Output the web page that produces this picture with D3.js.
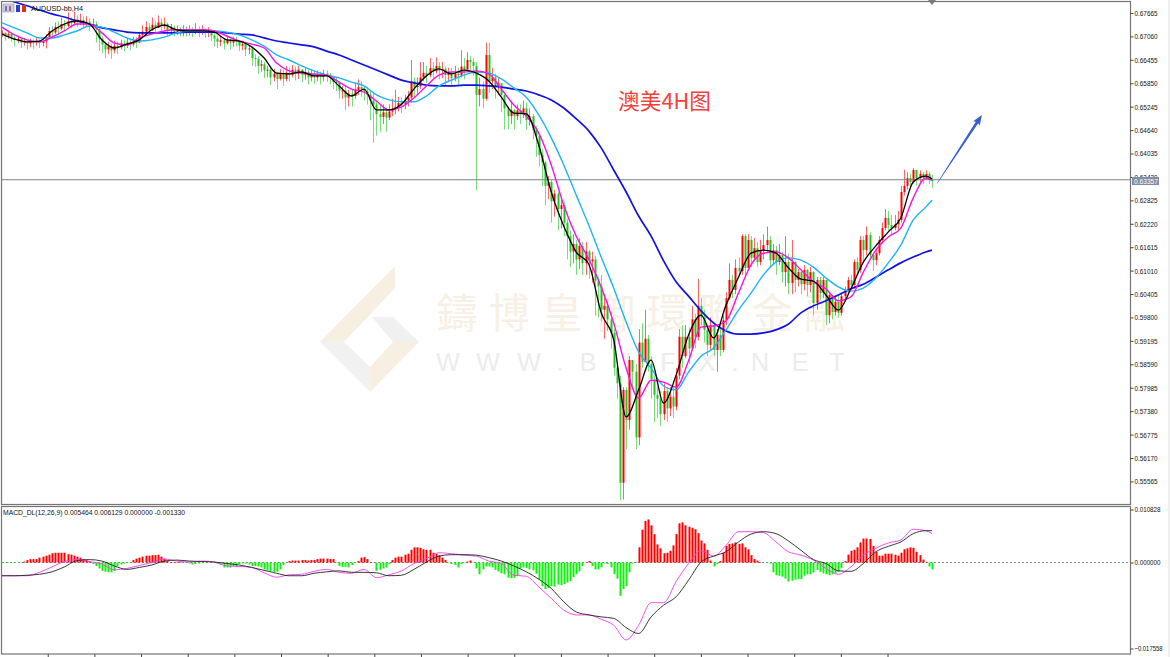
<!DOCTYPE html>
<html><head><meta charset="utf-8">
<script src="https://cdn.jsdelivr.net/npm/d3@7/dist/d3.min.js"></script>
<style>html,body{margin:0;padding:0;background:#fff}svg{display:block}</style>
</head><body><svg id="c" width="1170" height="657"></svg>
<script>
// prices in units of 0.0001
const closes=[
6715,6708,6712,6703,6697,6700,6690,6694,6688,6692,6690,6694,6689,6693,6703,
6720,6716,6730,6726,6738,6733,6745,6740,6750,6744,6748,6740,6744,6736,6738,
6725,6700,6685,6672,6680,6670,6682,6678,6688,6682,6690,6685,6692,6690,6710,
6718,6730,6722,6736,6728,6742,6732,6738,6722,6728,6716,6724,6718,6722,6718,
6722,6716,6724,6718,6722,6715,6718,6708,6700,6692,6696,6688,6698,6690,6695,
6694,6682,6686,6672,6675,6650,6648,6630,6634,6618,6620,6600,6610,6596,6612,
6596,6612,6606,6620,6610,6620,6606,6614,6600,6610,6600,6608,6602,6610,6606,
6600,6588,6586,6566,6566,6548,6558,6552,6568,6575,6570,6564,6556,6540,6530,
6505,6498,6510,6496,6512,6520,6524,6534,6530,6540,6548,6590,6575,6578,6600,
6612,6606,6624,6616,6630,6618,6622,6606,6612,6598,6610,6606,6628,6620,6645,
6640,6630,6555,6570,6545,6658,6590,6600,6575,6585,6555,6520,6500,6515,6500,
6515,6505,6520,6490,6500,6465,6450,6400,6380,6320,6330,6280,6300,6260,6270,
6225,6190,6150,6170,6130,6165,6120,6150,6125,6130,6075,6060,6000,6010,5975,
5940,5850,5810,5553,5793,5715,5870,5840,5670,5915,5865,5925,5860,5820,5780,
5770,5730,5790,5745,5775,5750,5830,5930,5880,5930,5900,5975,5930,6010,5980,
5948,5909,5960,5896,5935,5896,5973,6030,6077,6051,6108,6100,6190,6108,6180,
6134,6159,6123,6154,6167,6180,6128,6154,6123,6141,6097,6123,6069,6123,6077,
6097,6066,6103,6064,6097,6017,6077,6043,6077,5986,6038,5994,6020,5992,6035,
6051,6077,6064,6123,6103,6180,6154,6193,6141,6128,6146,6180,6211,6237,6219,
6211,6221,6232,6304,6320,6340,6330,6361,6340,6351,6340,6351,6335,6332];
const highs=[
6722,6716,6722,6712,6706,6708,6700,6702,6696,6700,6698,6702,6698,6702,6712,
6730,6732,6742,6745,6755,6748,6768,6755,6770,6760,6765,6758,6758,6752,6752,
6745,6728,6706,6692,6692,6688,6695,6692,6698,6696,6702,6698,6704,6705,6718,
6735,6745,6740,6755,6745,6760,6752,6755,6742,6738,6734,6734,6730,6735,6732,
6735,6730,6740,6732,6735,6728,6730,6725,6715,6708,6706,6702,6708,6700,6705,
6705,6695,6695,6684,6682,6680,6660,6655,6645,6640,6630,6625,6622,6615,6622,
6620,6630,6625,6632,6628,6630,6622,6625,6620,6622,6618,6618,6615,6620,6618,
6612,6604,6600,6590,6578,6575,6568,6570,6585,6595,6590,6578,6575,6565,6560,
6538,6528,6530,6520,6530,6545,6568,6550,6548,6555,6565,6645,6600,6600,6640,
6640,6630,6650,6640,6652,6640,6640,6628,6625,6625,6630,6625,6670,6650,6665,
6655,6650,6640,6600,6590,6690,6690,6625,6610,6600,6585,6555,6525,6535,6520,
6530,6530,6540,6535,6520,6505,6475,6455,6415,6385,6345,6335,6310,6305,6285,
6280,6235,6205,6195,6180,6185,6175,6175,6155,6150,6140,6085,6090,6040,6020,
5995,5950,5860,5830,5800,5800,5880,5870,5860,5950,5965,6000,5935,5880,5830,
5800,5790,5810,5800,5800,5800,5850,5950,5960,5960,5955,6010,5990,6080,6030,
6000,5960,5980,5960,5950,5960,5985,6045,6120,6090,6130,6135,6195,6195,6195,
6190,6185,6175,6180,6195,6215,6190,6170,6165,6170,6150,6190,6145,6180,6125,
6105,6100,6115,6105,6110,6100,6085,6085,6085,6075,6045,6040,6035,6035,6045,
6060,6085,6090,6130,6135,6190,6190,6215,6200,6145,6155,6190,6225,6260,6255,
6245,6245,6255,6320,6362,6355,6352,6366,6362,6360,6356,6360,6356,6348];
const lows=[
6705,6695,6700,6692,6680,6688,6676,6682,6672,6678,6674,6682,6676,6680,6675,
6705,6702,6712,6712,6722,6720,6730,6728,6735,6730,6735,6728,6730,6720,6725,
6690,6668,6662,6650,6660,6648,6662,6660,6672,6668,6676,6670,6680,6676,6688,
6704,6710,6710,6720,6716,6728,6720,6724,6708,6712,6706,6710,6706,6706,6706,
6708,6704,6712,6704,6710,6702,6704,6694,6680,6676,6680,6672,6684,6672,6680,
6680,6668,6670,6655,6660,6630,6628,6610,6615,6598,6600,6580,6590,6570,6592,
6578,6590,6590,6600,6592,6596,6588,6594,6582,6590,6584,6590,6582,6590,6588,
6582,6570,6565,6545,6545,6515,6525,6525,6545,6555,6550,6540,6530,6490,6431,
6450,6460,6480,6460,6490,6500,6505,6512,6508,6518,6525,6535,6548,6555,6570,
6590,6585,6600,6595,6610,6595,6598,6580,6590,6575,6590,6580,6600,6595,6615,
6620,6605,6309,6525,6520,6540,6560,6570,6545,6555,6510,6465,6465,6480,6465,
6490,6480,6495,6465,6475,6440,6395,6370,6320,6270,6285,6225,6240,6205,6210,
6190,6130,6110,6120,6090,6105,6090,6090,6080,6070,5985,5980,5970,5925,5945,
5900,5830,5770,5508,5510,5640,5690,5800,5640,5650,5850,5880,5840,5770,5710,
5720,5700,5715,5710,5725,5720,5740,5820,5850,5875,5860,5895,5900,5920,5960,
5915,5880,5895,5880,5840,5880,5890,5960,6025,6030,6040,6090,6090,6090,6100,
6110,6125,6110,6115,6130,6150,6110,6115,6090,6115,6070,6060,6040,6040,6045,
6060,6040,6050,6035,6045,5985,6000,6025,6030,5960,5965,5975,5985,5980,5985,
6020,6040,6050,6055,6090,6095,6125,6140,6130,6100,6115,6140,6170,6205,6205,
6195,6205,6205,6225,6295,6310,6310,6325,6320,6330,6325,6335,6325,6315];

const maBlack=[6712,6699,6692,6694,6720,6738,6746,6738,6697,6676,6686,6697,6723,6735,6723,6720,6720,6717,6697,6694,
6679,6650,6611,6609,6614,6604,6604,6578,6552,6570,6516,6516,6531,6570,6604,6622,6609,6619,6611,6591,
6549,6508,6506,6425,6304,6216,6149,6118,5992,5922,5723,5793,5870,5759,5831,5935,5986,5927,6012,6084,
6146,6154,6146,6108,6079,6074,6038,5999,6054,6123,6165,6201,6237,6330,6345,6338];
const maMagenta=[6730,6710,6697,6692,6704,6720,6738,6738,6715,6689,6684,6702,6712,6720,6723,6723,6723,6720,6707,6694,
6686,6676,6637,6617,6611,6609,6606,6588,6570,6562,6539,6516,6524,6547,6578,6606,6614,6614,6617,6609,
6570,6529,6500,6456,6374,6270,6190,6131,6059,5966,5849,5772,5818,5813,5800,5868,5955,5958,5971,6043,
6116,6146,6149,6134,6103,6072,6054,6023,6033,6097,6154,6188,6211,6289,6340,6335];
const maSky=[6741,6728,6715,6702,6702,6710,6720,6733,6730,6717,6702,6694,6697,6704,6715,6720,6720,6720,6717,6710,
6697,6681,6658,6645,6630,6617,6606,6599,6588,6578,6555,6542,6537,6537,6552,6578,6593,6606,6614,6611,
6596,6573,6549,6503,6444,6374,6296,6219,6136,6056,5968,5891,5849,5803,5793,5839,5880,5901,5948,5999,
6043,6090,6123,6134,6128,6110,6082,6059,6048,6056,6082,6121,6167,6232,6265,6283];
const maBlue=[6805,6795,6785,6774,6764,6756,6746,6738,6728,6723,6717,6715,6715,6715,6715,6717,6717,6717,6715,6712,
6710,6702,6694,6689,6684,6679,6668,6658,6645,6632,6619,6606,6593,6586,6580,6578,6578,6580,6580,6578,
6575,6570,6565,6555,6542,6521,6493,6462,6418,6361,6304,6242,6190,6126,6072,6035,5997,5966,5945,5937,
5937,5940,5948,5963,5992,6010,6023,6038,6054,6066,6084,6103,6121,6136,6149,6154];

// MACD values in units of 0.0001
const macdHist=[
-1,-1,-1,-1,-1,-1,-1,2,5,7,7,7,10,12,14,
16,19,20,20,20,20,17,16,14,12,10,7,5,3,-3,
-7,-12,-17,-19,-20,-20,-17,-8,-4,-2,-1,-1,5,8,10,
12,14,14,15,15,16,12,8,3,1,1,1,1,-1,-1,
-2,-4,-3,-2,-1,0,0,0,-1,-2,-4,-10,-10,-10,-7,
-8,-3,-2,-2,-4,-7,-7,-8,-10,-14,-16,-18,-19,-19,-14,
-5,0,3,4,4,4,5,5,4,5,5,7,8,8,8,
7,7,-1,-7,-9,-9,-10,-5,-1,3,10,11,7,1,-1,
-17,-15,-12,-10,-3,5,10,12,
12,16,18,26,31,31,30,27,26,26,20,18,15,10,5,
-1,-3,-5,-10,-3,-1,2,4,-1,-12,-24,-14,-8,-8,-10,
-15,-18,-22,-24,-31,-32,-31,-26,-12,-10,-11,-14,-16,-23,-35,
-48,-54,-52,-48,-49,-45,-46,-44,-41,-38,-30,-24,-18,-7,1,
3,-7,-14,-14,-10,-2,-3,-10,-24,-33,-68,-54,-48,-20,-2,
1,31,67,85,88,76,58,37,29,19,20,24,35,58,80,
82,76,73,71,68,60,45,39,26,4,-8,-3,3,20,34,
38,39,41,38,39,31,27,15,7,4,1,-1,-1,-2,-20,
-26,-27,-29,-33,-39,-37,-35,-34,
-34,-27,-24,-24,-20,-15,-19,-22,-24,-26,-24,-22,-19,-11,3,
16,24,26,31,41,49,49,48,34,22,14,14,18,18,18,
16,14,20,27,29,31,30,22,15,6,1,-8,-14];
const macdSignal=[-27,-27,-26,-24,-19,-9,4,6,3,-7,-14,-10,-5,3,5,3,2,1,-2,-5,-10,-16,-22,-27,-27,-22,-19,-17,-20,-20,-21,-27,
-26,-14,1,13,16,16,15,10,3,-7,-19,-34,-53,-80,-101,-107,-111,-114,-133,-145,-111,-87,-70,-36,1,13,22,42,58,63,59,44,
25,6,-2,-17,-18,-2,22,33,42,59,65,65];
const macdMain=[-27,-27,-27,-20,-9,2,6,2,-3,-15,-12,-6,0,7,3,1,3,1,-7,-8,-10,-21,-30,-25,-24,-18,-14,-20,-22,-14,-31,-25,
-17,-2,8,20,18,15,13,3,-2,-26,-28,-50,-73,-97,-107,-107,-116,-128,-158,-128,-82,-82,-39,-2,24,13,35,63,63,61,42,22,
15,5,-12,-24,-9,15,29,40,46,68,65,59];

const priceTicks=[0.67665,0.67060,0.66455,0.65850,0.65245,0.64640,0.64035,0.63430,0.62825,0.62220,0.61615,0.61010,0.60405,0.59800,0.59195,0.58590,0.57985,0.57380,0.56775,0.56170,0.55565];
const macdTicks=[0.010828,0,-0.017558];
const lastPrice=0.63357;
const symbolLabel="AUDUSD-bb,H4";
const macdLabel="MACD_DL(12,26,9) 0.005464 0.006129 0.000000 -0.001330";
const noteLabel="澳美4H图";
const wmChars=["鑄","博","皇","御","環","聯","金","融"];
const wmWeb=["W","W","W",".","B","I","F","X",".","N","E","T"];
const wmWebX=[448,488,529,560,588,628,668,707,735,760,800,837];
const timeTickBars=d3.range(19).map(k=>14.65+14.95*k);
const lineBars=d3.range(0,297,4).concat([298]);

const svg=d3.select("#c");
const x=d3.scaleLinear().domain([0,298]).range([2,932]);
const yP=d3.scaleLinear().domain([0.68,0.5555]).range([0,482]);
const yM=d3.scaleLinear().domain([0.010828,-0.017558]).range([509.5,648.5]);
const p=v=>yP(v/10000), m=v=>yM(v/10000);
const XR=1130.5;

svg.append("rect").attr("width",1170).attr("height",657).attr("fill","#fff");
svg.append("rect").attr("x",1168).attr("width",2).attr("height",657).attr("fill","#efefef");

// watermark
const wm=svg.append("g");
[[[395,266],[395,288],[344,342],[320,342],"#f6efe2"],
 [[372,317],[393,317],[419,342],[393,342],"#f0f0f0"],
 [[393,342],[419,342],[370,392],[370,367],"#f6efe2"],
 [[320,342],[344,342],[370,367],[370,392],"#f1f1f1"]].forEach(a=>{
  wm.append("polygon").attr("points",a.slice(0,4).join(" ")).attr("fill",a[4]);
});
wm.selectAll("text.cn").data(wmChars).join("text").attr("class","cn")
  .attr("x",(d,i)=>457+52.5*i).attr("y",328).attr("text-anchor","middle")
  .attr("font-family","'Noto Sans CJK TC'").attr("font-size",41).attr("fill","#f8efe5").text(d=>d);
wm.selectAll("text.web").data(wmWeb).join("text").attr("class","web")
  .attr("x",(d,i)=>wmWebX[i]).attr("y",371).attr("text-anchor","middle")
  .attr("font-family","'Liberation Sans'").attr("font-size",25).attr("fill","#ececec").text(d=>d);

// main panel
svg.append("clipPath").attr("id","mainClip").append("rect").attr("x",2).attr("y",2).attr("width",XR-2).attr("height",502);
const main=svg.append("g").attr("clip-path","url(#mainClip)");
const UP="#ff0000",DOWN="#22c422";
const bars=closes.map((c,i)=>({i,c,o:i?closes[i-1]:c,h:highs[i],l:lows[i]}));
const col=d=>d.c>=d.o?UP:DOWN;
main.selectAll("line.w").data(bars).join("line").attr("class","w")
  .attr("x1",d=>Math.round(x(d.i))+.5).attr("x2",d=>Math.round(x(d.i))+.5).attr("y1",d=>p(d.h)).attr("y2",d=>p(d.l))
  .attr("stroke",col).attr("stroke-width",1).attr("stroke-opacity",.6);
main.selectAll("rect.b").data(bars).join("rect").attr("class","b")
  .attr("x",d=>Math.round(x(d.i))-.5).attr("width",2)
  .attr("y",d=>p(Math.max(d.o,d.c))).attr("height",d=>Math.max(1,Math.abs(p(d.o)-p(d.c))))
  .attr("fill",col);

main.append("line").attr("x1",2).attr("x2",XR).attr("y1",yP(lastPrice)).attr("y2",yP(lastPrice))
  .attr("stroke","#74808f").attr("stroke-width",1);

const line=(yf)=>d3.line().x((d,i)=>x(lineBars[i])).y(yf).curve(d3.curveMonotoneX);
[[maBlue,"#1212e0",1.7],[maSky,"#1cb4fa",1.4],[maMagenta,"#f414e4",1.4],[maBlack,"#000",1.3]].forEach(s=>{
  main.append("path").attr("d",line(d=>p(d))(s[0])).attr("fill","none").attr("stroke",s[1]).attr("stroke-width",s[2]);
});

// annotations
svg.append("text").attr("x",618).attr("y",109).attr("font-family","'Noto Sans CJK SC'")
  .attr("font-size",21.7).attr("fill","#f2423a").text(noteLabel);
const tailBar=299.7,headBar=314,tailP=6327,headP=6503;
(function(){
  const x0=x(tailBar),y0=p(tailP),x1=x(headBar),y1=p(headP);
  const L=Math.hypot(x1-x0,y1-y0),ux=(x1-x0)/L,uy=(y1-y0)/L,nx=-uy,ny=ux;
  const at=(t,w)=>[x0+ux*t+nx*w,y0+uy*t+ny*w];
  const pts=[at(0,0.3),at(L-9,1.4),at(L-10,4),at(L,0),at(L-10,-4),at(L-9,-1.4),at(0,-0.3)];
  svg.append("polygon").attr("points",pts.join(" ")).attr("fill","#3a5fcd");
})();
svg.append("polygon").attr("points",`${x(298)-4},0 ${x(298)+4},0 ${x(298)},5`).attr("fill","#808080");

// MACD
svg.append("clipPath").attr("id","macdClip").append("rect").attr("x",2).attr("y",507).attr("width",XR-2).attr("height",146);
const mp=svg.append("g").attr("clip-path","url(#macdClip)");
mp.append("line").attr("x1",2).attr("x2",XR).attr("y1",m(0)).attr("y2",m(0))
  .attr("stroke","#888").attr("stroke-dasharray","2 2");
mp.selectAll("rect.h").data(macdHist).join("rect").attr("class","h")
  .attr("x",(d,i)=>Math.round(x(i))-.5).attr("width",2)
  .attr("y",d=>d>=0?m(d):m(0)).attr("height",d=>Math.abs(m(d)-m(0)))
  .attr("fill",d=>d>=0?"#ff0000":"#12f012");
mp.append("path").attr("d",line(d=>m(d))(macdMain)).attr("fill","none").attr("stroke","#f23cf0").attr("stroke-width",.9);
mp.append("path").attr("d",line(d=>m(d))(macdSignal)).attr("fill","none").attr("stroke","#222").attr("stroke-width",.9);

// frames
const fr="#757575";
svg.append("rect").attr("x",1.5).attr("y",1.5).attr("width",XR-1.5).attr("height",503).attr("fill","none").attr("stroke",fr).attr("stroke-width",1.2);
svg.append("rect").attr("x",1.5).attr("y",506.5).attr("width",XR-1.5).attr("height",147.5).attr("fill","none").attr("stroke",fr).attr("stroke-width",1.2);

// axes
const font="'Liberation Sans'";
const ax=svg.append("g").attr("transform",`translate(${XR},0)`)
  .call(d3.axisRight(yP).tickValues(priceTicks).tickFormat(d3.format(".5f")).tickSize(3).tickPadding(1));
const ax2=svg.append("g").attr("transform",`translate(${XR},0)`)
  .call(d3.axisRight(yM).tickValues(macdTicks).tickFormat(d3.format(".6f")).tickSize(3).tickPadding(1));
const ax3=svg.append("g").attr("transform","translate(0,654)")
  .call(d3.axisBottom(x).tickValues(timeTickBars).tickFormat("").tickSize(3));
[ax,ax2,ax3].forEach(a=>{a.select(".domain").remove();a.selectAll("line").attr("stroke","#444");});
ax.selectAll("text").attr("font-family",font).attr("font-size",7.6).attr("fill","#111")
  .attr("textLength",23).attr("lengthAdjust","spacingAndGlyphs");
ax2.selectAll("text").attr("font-family",font).attr("font-size",7.6).attr("fill","#111")
  .attr("textLength",d=>d<0?28:26).attr("lengthAdjust","spacingAndGlyphs");

// current price tag
svg.append("rect").attr("x",1132).attr("y",177).attr("width",27).attr("height",8).attr("fill","#7f8fa6");
svg.append("text").attr("x",1134).attr("y",183.7).attr("font-family",font).attr("font-size",7.6)
  .attr("fill","#fff").attr("textLength",24).attr("lengthAdjust","spacingAndGlyphs").text(d3.format(".5f")(lastPrice));

// labels and toolbar icons
svg.append("rect").attr("x",3).attr("y",4).attr("width",11).attr("height",8).attr("fill","#c9cfe6").attr("stroke","#8a90a8").attr("stroke-width",.6);
svg.append("rect").attr("x",5).attr("y",6).attr("width",2).attr("height",5).attr("fill","#8a6fb0");
svg.append("rect").attr("x",9).attr("y",6).attr("width",2).attr("height",5).attr("fill","#c05a7a");
svg.append("rect").attr("x",16).attr("y",5).attr("width",4).attr("height",7).attr("fill","#2a3bd0");
svg.append("rect").attr("x",22).attr("y",5).attr("width",4).attr("height",7).attr("fill","#d83030");
svg.append("text").attr("x",31).attr("y",11).attr("font-family",font).attr("font-size",8).attr("fill","#111")
  .attr("textLength",52).attr("lengthAdjust","spacingAndGlyphs").text(symbolLabel);
svg.append("text").attr("x",3).attr("y",515).attr("font-family",font).attr("font-size",7.6).attr("fill","#111")
  .attr("textLength",182).attr("lengthAdjust","spacingAndGlyphs").text(macdLabel);
</script></body></html>
